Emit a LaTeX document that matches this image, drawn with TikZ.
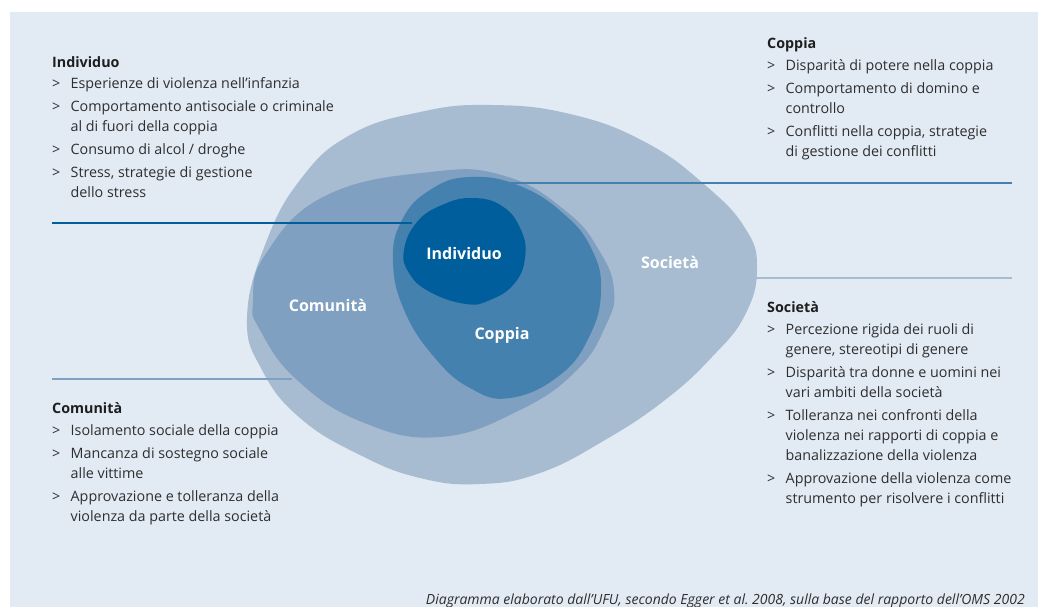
\documentclass[tikz,border=0pt]{standalone}
\usepackage{fontspec}
\setmainfont{Open Sans}
\usepackage{tikz}
\usetikzlibrary{positioning}

\definecolor{bgblue}{HTML}{E2EAF4}
\definecolor{socblue}{HTML}{A8BCD1}
\definecolor{comblue}{HTML}{7FA0C0}
\definecolor{copblue}{HTML}{4481AE}
\definecolor{indblue}{HTML}{005E9D}
\definecolor{txtgray}{HTML}{2E2E2E}
\definecolor{headgray}{HTML}{1E1E1E}

\newcommand{\bul}{\makebox[18.5pt][l]{>}}
\newcommand{\cnt}{\hspace*{18.5pt}}
\newcommand{\head}[1]{\textcolor{headgray}{\bfseries\rule{0pt}{11pt}#1}}

\begin{document}
\begin{tikzpicture}[x=1pt,y=-1pt,
    info/.style={anchor=north west, inner sep=0pt, align=left, text=txtgray,
        font=\fontsize{14.3}{20}\selectfont},
    lbl/.style={text=white, inner sep=0pt, font=\fontsize{16}{18}\selectfont\bfseries},
    lead/.style={line width=2.2pt}]
    \useasboundingbox (0,0) rectangle (1038,607);
    \fill[bgblue] (10,12) rectangle (1038,607);

    % the four spheres
    \fill[socblue] plot[smooth cycle, tension=0.75] coordinates {(247,318) (265,245) (300,180) (350,135) (420,112) (490,105) (570,114) (645,142) (705,185) (745,228) (757,268) (745,315) (712,357) (665,400) (605,440) (540,473) (480,484) (420,478) (360,455) (300,418) (262,370)};
    \fill[comblue] plot[smooth cycle, tension=0.75] coordinates {(253,302) (265,255) (325,196) (430,172) (505,176) (567,212) (600,252) (614,290) (606,325) (577,370) (520,410) (440,437) (362,422) (297,380) (260,330)};
    \fill[copblue] plot[smooth cycle, tension=0.75] coordinates {(393,262) (402,220) (430,190) (470,177) (520,186) (565,215) (592,250) (601,290) (590,335) (560,375) (510,398) (470,388) (435,358) (405,312)};
    \fill[indblue] plot[smooth cycle, tension=0.75] coordinates {(404,250) (417,222) (442,205) (472,198) (502,206) (521,230) (525,258) (514,284) (490,300) (466,304) (430,292) (409,273)};

    \node[lbl] (indLbl) at (464,253) {Individuo};
    \node[lbl] (comLbl) at (328,305) {Comunità};
    \node[lbl] (copLbl) at (502,335) {Coppia};
    \node[lbl] (socLbl) at (670,262) {Società};

    % text blocks
    \node[info] (indText) at (52,56) {\head{Individuo}\\[1pt]
        \bul Esperienze di violenza nell’infanzia\\[3pt]
        \bul Comportamento antisociale o criminale\\
        \cnt al di fuori della coppia\\[3pt]
        \bul Consumo di alcol / droghe\\[3pt]
        \bul Stress, strategie di gestione\\
        \cnt dello stress};
    \node[info] (copText) at (767,37) {\head{Coppia}\\[2pt]
        \bul Disparità di potere nella coppia\\[3pt]
        \bul Comportamento di domino e\\
        \cnt controllo\\[3pt]
        \bul Conflitti nella coppia, strategie\\
        \cnt di gestione dei conflitti};
    \node[info] (socText) at (767,301) {\head{Società}\\[2pt]
        \bul Percezione rigida dei ruoli di\\
        \cnt genere, stereotipi di genere\\[3pt]
        \bul Disparità tra donne e uomini nei\\
        \cnt vari ambiti della società\\[3pt]
        \bul Tolleranza nei confronti della\\
        \cnt violenza nei rapporti di coppia e\\
        \cnt banalizzazione della violenza\\[3pt]
        \bul Approvazione della violenza come\\
        \cnt strumento per risolvere i conflitti};
    \node[info] (comText) at (52,402) {\head{Comunità}\\[2pt]
        \bul Isolamento sociale della coppia\\[3pt]
        \bul Mancanza di sostegno sociale\\
        \cnt alle vittime\\[3pt]
        \bul Approvazione e tolleranza della\\
        \cnt violenza da parte della società};

    % leader lines
    \coordinate (indL) at (52,223);
    \coordinate (indR) at (412,223);
    \coordinate (copL) at (507,183);
    \coordinate (copR) at (1012,183);
    \coordinate (socL) at (756,278);
    \coordinate (socR) at (1012,278);
    \coordinate (comL) at (52,379);
    \coordinate (comR) at (292,379);
    \draw[lead, indblue] (indL) -- (indR);
    \draw[lead, copblue] (copL) -- (copR);
    \draw[lead, socblue] (socL) -- (socR);
    \draw[lead, comblue] (comL) -- (comR);

    \node[anchor=base east, inner sep=0pt, text=txtgray, font=\fontsize{14}{16}\selectfont\itshape] (src) at (1025,604) {Diagramma elaborato dall’UFU, secondo Egger et al.\ 2008, sulla base del rapporto dell’OMS 2002};
\end{tikzpicture}
\end{document}
